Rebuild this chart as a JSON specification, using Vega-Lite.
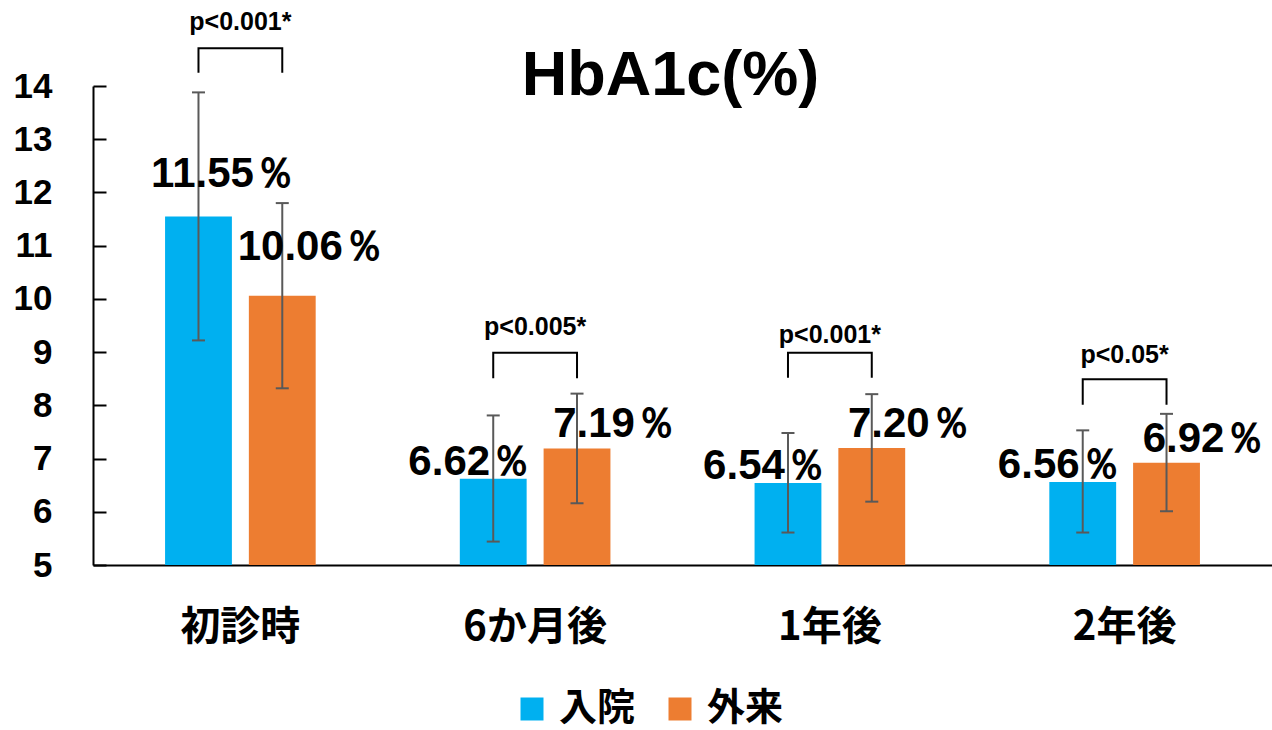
{
  "$schema": "https://vega.github.io/schema/vega-lite/v6.json",
  "width": 1179,
  "height": 479,
  "autosize": {"type": "none"},
  "padding": {"left": 93, "top": 86, "right": 0, "bottom": 165},
  "background": "white",
  "title": {
    "text": "HbA1c(%)",
    "anchor": "middle",
    "orient": "top",
    "offset": 0,
    "baseline": "alphabetic",
    "dy": 148,
    "dx": -12,
    "font": "Liberation Sans",
    "fontSize": 63,
    "fontWeight": "bold",
    "color": "black"
  },
  "config": {
    "view": {"stroke": null},
    "font": "Liberation Sans"
  },
  "datasets": {
    "bars": [
      {"cat": "初診時", "grp": "入院", "value": 11.55, "lo": 9.22, "hi": 13.88, "label": "11.55％"},
      {"cat": "初診時", "grp": "外来", "value": 10.06, "lo": 8.32, "hi": 11.80, "label": "10.06％"},
      {"cat": "6か月後", "grp": "入院", "value": 6.62, "lo": 5.44, "hi": 7.81, "label": "6.62％"},
      {"cat": "6か月後", "grp": "外来", "value": 7.19, "lo": 6.16, "hi": 8.22, "label": "7.19％"},
      {"cat": "1年後", "grp": "入院", "value": 6.54, "lo": 5.61, "hi": 7.48, "label": "6.54％"},
      {"cat": "1年後", "grp": "外来", "value": 7.20, "lo": 6.19, "hi": 8.21, "label": "7.20％"},
      {"cat": "2年後", "grp": "入院", "value": 6.56, "lo": 5.61, "hi": 7.53, "label": "6.56％"},
      {"cat": "2年後", "grp": "外来", "value": 6.92, "lo": 6.01, "hi": 7.84, "label": "6.92％"}
    ],
    "brackets": [
      {"cat": "初診時", "grp": "入院", "y": 14.25, "ord": 1},
      {"cat": "初診時", "grp": "入院", "y": 14.71, "ord": 2},
      {"cat": "初診時", "grp": "外来", "y": 14.71, "ord": 3},
      {"cat": "初診時", "grp": "外来", "y": 14.25, "ord": 4},
      {"cat": "6か月後", "grp": "入院", "y": 8.51, "ord": 1},
      {"cat": "6か月後", "grp": "入院", "y": 8.99, "ord": 2},
      {"cat": "6か月後", "grp": "外来", "y": 8.99, "ord": 3},
      {"cat": "6か月後", "grp": "外来", "y": 8.51, "ord": 4},
      {"cat": "1年後", "grp": "入院", "y": 8.52, "ord": 1},
      {"cat": "1年後", "grp": "入院", "y": 8.99, "ord": 2},
      {"cat": "1年後", "grp": "外来", "y": 8.99, "ord": 3},
      {"cat": "1年後", "grp": "外来", "y": 8.52, "ord": 4},
      {"cat": "2年後", "grp": "入院", "y": 8.01, "ord": 1},
      {"cat": "2年後", "grp": "入院", "y": 8.49, "ord": 2},
      {"cat": "2年後", "grp": "外来", "y": 8.49, "ord": 3},
      {"cat": "2年後", "grp": "外来", "y": 8.01, "ord": 4}
    ],
    "pvals": [
      {"cat": "初診時", "p": "p<0.001*", "y": 15.06},
      {"cat": "6か月後", "p": "p<0.005*", "y": 9.32},
      {"cat": "1年後", "p": "p<0.001*", "y": 9.17},
      {"cat": "2年後", "p": "p<0.05*", "y": 8.80}
    ]
  },
  "encoding": {
    "x": {
      "field": "cat",
      "type": "nominal",
      "sort": ["初診時", "6か月後", "1年後", "2年後"],
      "scale": {"paddingInner": 0.489, "paddingOuter": 0.2445},
      "axis": {
        "title": null,
        "labelAngle": 0,
        "labelFont": "Noto Sans CJK JP",
        "labelFontSize": 40,
        "labelFontWeight": "bold",
        "labelColor": "black",
        "labelPadding": 42,
        "ticks": false,
        "domainColor": "black",
        "domainWidth": 2
      }
    },
    "y": {
      "type": "quantitative",
      "scale": {"domain": [5, 14], "zero": false, "nice": false},
      "axis": {
        "title": null,
        "values": [5, 6, 7, 8, 9, 10, 11, 12, 13, 14],
        "grid": false,
        "labelFont": "Liberation Sans",
        "labelFontSize": 35,
        "labelFontWeight": "bold",
        "labelColor": "black",
        "labelPadding": 54,
        "tickSize": -13,
        "tickWidth": 2,
        "tickColor": "black",
        "domainColor": "black",
        "domainWidth": 2
      }
    }
  },
  "layer": [
    {
      "data": {"name": "bars"},
      "mark": {"type": "bar"},
      "encoding": {
        "xOffset": {"field": "grp", "type": "nominal", "sort": ["入院", "外来"], "scale": {"paddingInner": 0.2024, "paddingOuter": 0}},
        "y": {"field": "value"},
        "y2": {"datum": 5},
        "color": {
          "field": "grp",
          "type": "nominal",
          "sort": ["入院", "外来"],
          "scale": {"domain": ["入院", "外来"], "range": ["#00B0F0", "#ED7D31"]},
          "legend": {
            "title": null,
            "orient": "none",
            "legendX": 420,
            "legendY": 604,
            "direction": "horizontal",
            "symbolType": "square",
            "symbolSize": 529,
            "symbolStrokeWidth": 0,
            "symbolOpacity": 1,
            "labelFont": "Noto Sans CJK JP",
            "labelFontSize": 38,
            "labelFontWeight": "bold",
            "labelColor": "black",
            "labelOffset": 8,
            "columnPadding": 25
          }
        }
      }
    },
    {
      "data": {"name": "bars"},
      "mark": {"type": "rule", "color": "#595959", "strokeWidth": 2},
      "encoding": {"xOffset": {"field": "grp", "type": "nominal", "sort": ["入院", "外来"]}, "y": {"field": "lo"}, "y2": {"field": "hi"}}
    },
    {
      "data": {"name": "bars"},
      "mark": {"type": "tick", "color": "#595959", "size": 13, "thickness": 2, "opacity": 1},
      "encoding": {"xOffset": {"field": "grp", "type": "nominal", "sort": ["入院", "外来"]}, "y": {"field": "lo"}}
    },
    {
      "data": {"name": "bars"},
      "mark": {"type": "tick", "color": "#595959", "size": 13, "thickness": 2, "opacity": 1},
      "encoding": {"xOffset": {"field": "grp", "type": "nominal", "sort": ["入院", "外来"]}, "y": {"field": "hi"}}
    },
    {
      "data": {"name": "bars"},
      "transform": [{"filter": "datum.grp === '入院' && datum.cat === '初診時'"}],
      "mark": {"type": "text", "font": "Liberation Sans", "fontSize": 42, "fontWeight": "bold", "color": "black", "baseline": "alphabetic", "dx": 25, "dy": -29.5},
      "encoding": {"xOffset": {"field": "grp", "type": "nominal", "sort": ["入院", "外来"]}, "y": {"field": "value"}, "text": {"field": "label"}}
    },
    {
      "data": {"name": "bars"},
      "transform": [{"filter": "datum.grp === '入院' && datum.cat !== '初診時'"}],
      "mark": {"type": "text", "font": "Liberation Sans", "fontSize": 42, "fontWeight": "bold", "color": "black", "baseline": "alphabetic", "dx": -23, "dy": -4},
      "encoding": {"xOffset": {"field": "grp", "type": "nominal", "sort": ["入院", "外来"]}, "y": {"field": "value"}, "text": {"field": "label"}}
    },
    {
      "data": {"name": "bars"},
      "transform": [{"filter": "datum.grp === '外来' && datum.cat === '初診時'"}],
      "mark": {"type": "text", "font": "Liberation Sans", "fontSize": 42, "fontWeight": "bold", "color": "black", "baseline": "alphabetic", "dx": 29, "dy": -36},
      "encoding": {"xOffset": {"field": "grp", "type": "nominal", "sort": ["入院", "外来"]}, "y": {"field": "value"}, "text": {"field": "label"}}
    },
    {
      "data": {"name": "bars"},
      "transform": [{"filter": "datum.grp === '外来' && datum.cat !== '初診時'"}],
      "mark": {"type": "text", "font": "Liberation Sans", "fontSize": 42, "fontWeight": "bold", "color": "black", "baseline": "alphabetic", "dx": 38, "dy": -11},
      "encoding": {"xOffset": {"field": "grp", "type": "nominal", "sort": ["入院", "外来"]}, "y": {"field": "value"}, "text": {"field": "label"}}
    },
    {
      "data": {"name": "brackets"},
      "mark": {"type": "line", "color": "black", "strokeWidth": 2, "interpolate": "linear"},
      "encoding": {
        "xOffset": {"field": "grp", "type": "nominal", "sort": ["入院", "外来"]},
        "y": {"field": "y"},
        "detail": {"field": "cat"},
        "order": {"field": "ord", "type": "quantitative"}
      }
    },
    {
      "data": {"name": "pvals"},
      "mark": {"type": "text", "font": "Liberation Sans", "fontSize": 25, "fontWeight": "bold", "color": "black", "baseline": "alphabetic"},
      "encoding": {"y": {"field": "y"}, "text": {"field": "p"}}
    }
  ]
}
